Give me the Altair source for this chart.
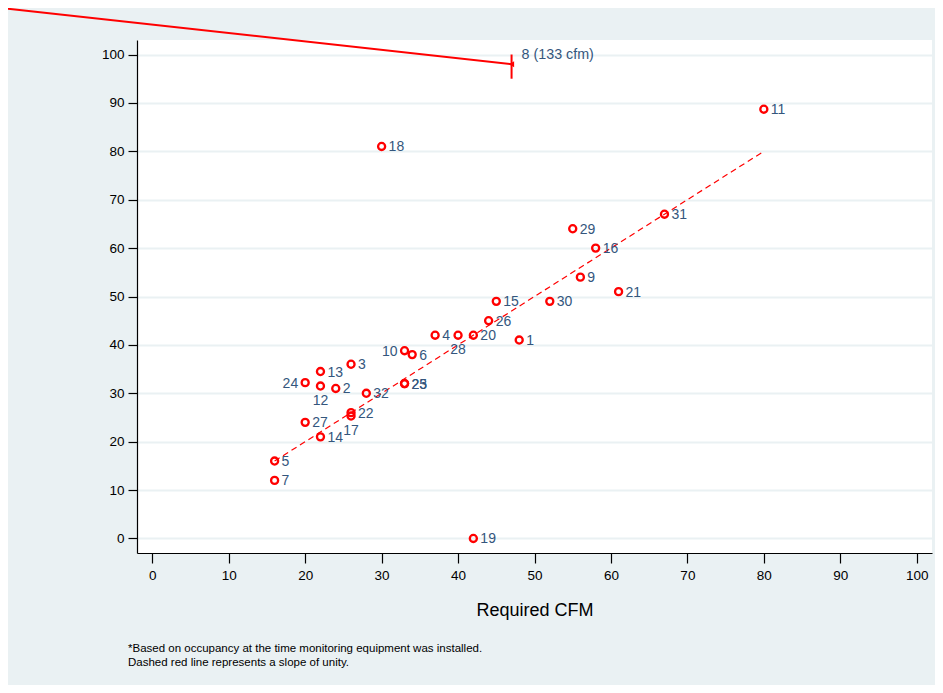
import altair as alt
import pandas as pd

# ---- data ----
SITE_IDS = ["1", "2", "3", "4", "5", "6", "7", "9", "10", "11", "12", "13", "14", "15", "16",
            "17", "18", "19", "20", "21", "22", "23", "24", "25", "26", "27", "28", "29", "30",
            "31", "32"]
REQUIRED_CFM = [48, 24, 26, 37, 16, 34, 16, 56, 33, 80, 22, 22, 22, 45, 58,
                26, 30, 42, 42, 61, 26, 33, 20, 33, 44, 20, 40, 55, 52,
                67, 28]
MEASURED_CFM = [41, 31, 36, 42, 16, 38, 12, 54, 38.8, 88.7, 31.5, 34.5, 21, 49, 60,
                25.3, 81, 0, 42, 51, 26, 32, 32.2, 32, 45, 24, 42, 64, 49,
                67, 30]
LABEL_POS = ["r", "r", "r", "r", "r", "r", "r", "r", "l", "r", "b", "r", "r", "r", "r",
             "b", "r", "r", "r", "r", "r", "r", "l", "r", "r", "r", "b", "r", "r",
             "r", "r"]

OFF_ID = ["8 (133 cfm)"]
OFF_X = [47]
OFF_Y = [98]
OFF_LINE_X2 = [-19.1]
OFF_LINE_Y2 = [109.5]
OFF_BAR_Y = [95]
OFF_BAR_Y2 = [100]

UNITY_X = [16]
UNITY_X2 = [80]

X_TITLE = "Required CFM"
FOOTNOTE = ["*Based on occupancy at the time monitoring equipment was installed.",
            "Dashed red line represents a slope of unity."]

FONT = "Liberation Sans"
RED = "#ff0000"
LABEL_COLOR = "#34567d"
BG = "#eaf1f3"

df = pd.DataFrame({"id": SITE_IDS, "x": REQUIRED_CFM, "y": MEASURED_CFM, "pos": LABEL_POS})
off = pd.DataFrame({"id": OFF_ID, "x": OFF_X, "y": OFF_Y, "x2": OFF_LINE_X2, "y2": OFF_LINE_Y2,
                    "yb": OFF_BAR_Y, "yb2": OFF_BAR_Y2})
unity = pd.DataFrame({"x": UNITY_X, "x2": UNITY_X2, "y": UNITY_X, "y2": UNITY_X2})
foot = pd.DataFrame({"t": ["\n".join(FOOTNOTE)]})

xs = alt.Scale(domain=[-2, 102], nice=False, zero=False)
ys = alt.Scale(domain=[-3, 103], nice=False, zero=False)

X = alt.X("x:Q", scale=xs,
          axis=alt.Axis(title=X_TITLE, values=list(range(0, 101, 10)), grid=False,
                        tickSize=10, labelPadding=5, titlePadding=20, titleFontSize=18,
                        labelFontSize=13.5, titleFontWeight="normal"))
Y = alt.Y("y:Q", scale=ys,
          axis=alt.Axis(title=None, values=list(range(0, 101, 10)), grid=True,
                        gridColor=BG, gridWidth=2, tickSize=9, labelPadding=4,
                        labelFontSize=13.5))

base = alt.Chart(df)

points = base.mark_point(shape="circle", filled=False, color=RED, size=50,
                         strokeWidth=2.3, opacity=1).encode(x=X, y=Y)

lab_r = base.transform_filter(alt.datum.pos == "r").mark_text(
    align="left", baseline="middle", dx=7, dy=1, fontSize=14, font=FONT,
    color=LABEL_COLOR).encode(x="x:Q", y="y:Q", text="id:N")
lab_l = base.transform_filter(alt.datum.pos == "l").mark_text(
    align="right", baseline="middle", dx=-7, dy=1, fontSize=14, font=FONT,
    color=LABEL_COLOR).encode(x="x:Q", y="y:Q", text="id:N")
lab_b = base.transform_filter(alt.datum.pos == "b").mark_text(
    align="center", baseline="middle", dx=0, dy=15, fontSize=14, font=FONT,
    color=LABEL_COLOR).encode(x="x:Q", y="y:Q", text="id:N")

unity_line = alt.Chart(unity).mark_rule(color=RED, strokeDash=[6, 4], strokeWidth=1.2).encode(
    x="x:Q", x2="x2:Q", y="y:Q", y2="y2:Q")

offb = alt.Chart(off)
leader = offb.mark_rule(color=RED, strokeWidth=2, clip=False).encode(
    x="x:Q", y="y:Q", x2="x2:Q", y2="y2:Q")
bar = offb.mark_rule(color=RED, strokeWidth=2).encode(x="x:Q", y="yb:Q", y2="yb2:Q")
tip = offb.mark_point(shape="triangle-left", filled=True, color=RED, size=35, opacity=1).encode(
    x="x:Q", y="y:Q")
off_lab = offb.mark_text(align="left", baseline="middle", dx=10, dy=-9, fontSize=14.3, font=FONT,
                         color=LABEL_COLOR).encode(x="x:Q", y="y:Q", text="id:N")

foot_txt = alt.Chart(foot).mark_text(align="left", baseline="top", lineBreak="\n",
                                     lineHeight=14, fontSize=11.5, font=FONT,
                                     color="#000000").encode(
    x=alt.value(-9), y=alt.value(603), text="t:N")

chart = alt.layer(unity_line, points, lab_r, lab_l, lab_b, leader, bar, tip, off_lab,
                  foot_txt).properties(
    width=795, height=513,
    autosize=alt.AutoSizeParams(type="none"),
    padding={"left": 129, "top": 32, "right": 3, "bottom": 132},
    background=BG,
).configure_view(fill="white", stroke=None).configure_axis(
    labelFont=FONT, titleFont=FONT, labelColor="#000000", titleColor="#000000",
    domainColor="#000000", tickColor="#000000", domainWidth=1.2, tickWidth=1.2,
)

chart.save("out.html", embed_options={"renderer": "svg", "actions": False})
